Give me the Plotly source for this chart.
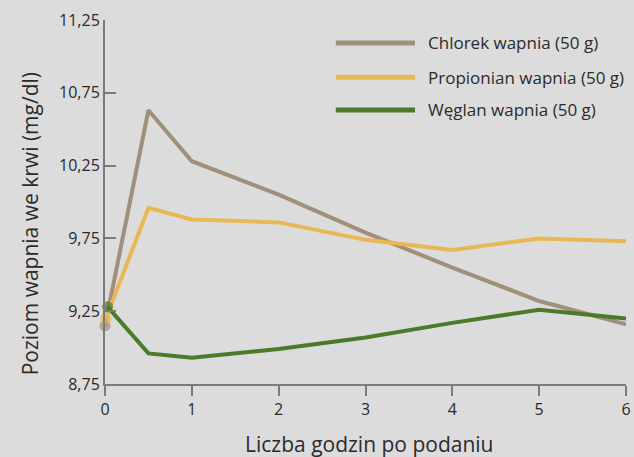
import plotly.graph_objects as go

# Data
series_names = ["Chlorek wapnia (50 g)", "Propionian wapnia (50 g)", "Węglan wapnia (50 g)"]
hours_chlorek = [0, 0.5, 1, 2, 3, 4, 5, 6]
chlorek = [9.15, 10.63, 10.28, 10.05, 9.79, 9.55, 9.32, 9.16]
hours_propionian = [0.01, 0.5, 1, 2, 3, 4, 5, 6]
propionian = [9.20, 9.96, 9.88, 9.86, 9.74, 9.67, 9.75, 9.73]
hours_weglan = [0.03, 0.5, 1, 2, 3, 4, 5, 6]
weglan = [9.28, 8.96, 8.93, 8.99, 9.07, 9.17, 9.26, 9.20]

x_ticks = [0, 1, 2, 3, 4, 5, 6]
y_ticks = [8.75, 9.25, 9.75, 10.25, 10.75, 11.25]
y_ticktext = ["8,75", "9,25", "9,75", "10,25", "10,75", "11,25"]

colors = ["#a08f7b", "#e8b854", "#4a7a2a"]
FONT = "Open Sans"
TXT = "#2b2b2b"

fig = go.Figure()
for name, xs, ys, c in zip(series_names,
                           [hours_chlorek, hours_propionian, hours_weglan],
                           [chlorek, propionian, weglan], colors):
    fig.add_trace(go.Scatter(
        x=xs, y=ys, name=name, mode="lines+markers",
        line=dict(color=c, width=4),
        marker=dict(color=c, size=[11] + [0] * (len(xs) - 1), line=dict(width=0)),
        cliponaxis=False, showlegend=False,
    ))

# Manual legend
legend_y = [0.937, 0.843, 0.753]
shapes = []
annotations = []
for name, c, ly in zip(series_names, colors, legend_y):
    shapes.append(dict(type="line", xref="paper", yref="paper",
                       x0=0.443, x1=0.595, y0=ly, y1=ly,
                       line=dict(color=c, width=5)))
    annotations.append(dict(xref="paper", yref="paper", x=0.616, y=ly,
                            text=name, showarrow=False, xanchor="left",
                            yanchor="middle",
                            font=dict(family=FONT, size=17, color=TXT)))

annotations.append(dict(xref="paper", yref="paper", x=-0.145, y=0.44,
                        text="Poziom wapnia we krwi (mg/dl)", textangle=-90,
                        showarrow=False, xanchor="center", yanchor="middle",
                        font=dict(family=FONT, size=21, color=TXT)))
annotations.append(dict(xref="paper", yref="paper", x=0.508, y=-0.166,
                        text="Liczba godzin po podaniu",
                        showarrow=False, xanchor="center", yanchor="middle",
                        font=dict(family=FONT, size=21, color=TXT)))

fig.update_layout(
    width=634, height=457,
    margin=dict(l=105, r=3.5, t=20, b=73),
    paper_bgcolor="#dcdcdc", plot_bgcolor="#dcdcdc",
    font=dict(family=FONT, size=16, color=TXT),
    shapes=shapes, annotations=annotations,
    xaxis=dict(range=[0, 6], tickvals=x_ticks, showgrid=False, zeroline=False,
               showline=True, linecolor="#7a7a7a", linewidth=2,
               ticks="outside", ticklen=10, tickwidth=2, tickcolor="#7a7a7a",
               ticklabeloverflow="allow",
               tickfont=dict(family=FONT, size=16, color=TXT)),
    yaxis=dict(range=[8.75, 11.25], tickvals=y_ticks, ticktext=y_ticktext,
               showgrid=False, zeroline=False,
               showline=True, linecolor="#7a7a7a", linewidth=2,
               ticks="inside", ticklen=11, tickwidth=2, tickcolor="#7a7a7a",
               tickfont=dict(family=FONT, size=16, color=TXT)),
)

fig.write_html("out.html", config={"displayModeBar": False},
               post_script="document.documentElement.style.overflow='hidden';document.body.style.margin='0';document.body.style.padding='0';document.body.style.background='#dcdcdc';")
